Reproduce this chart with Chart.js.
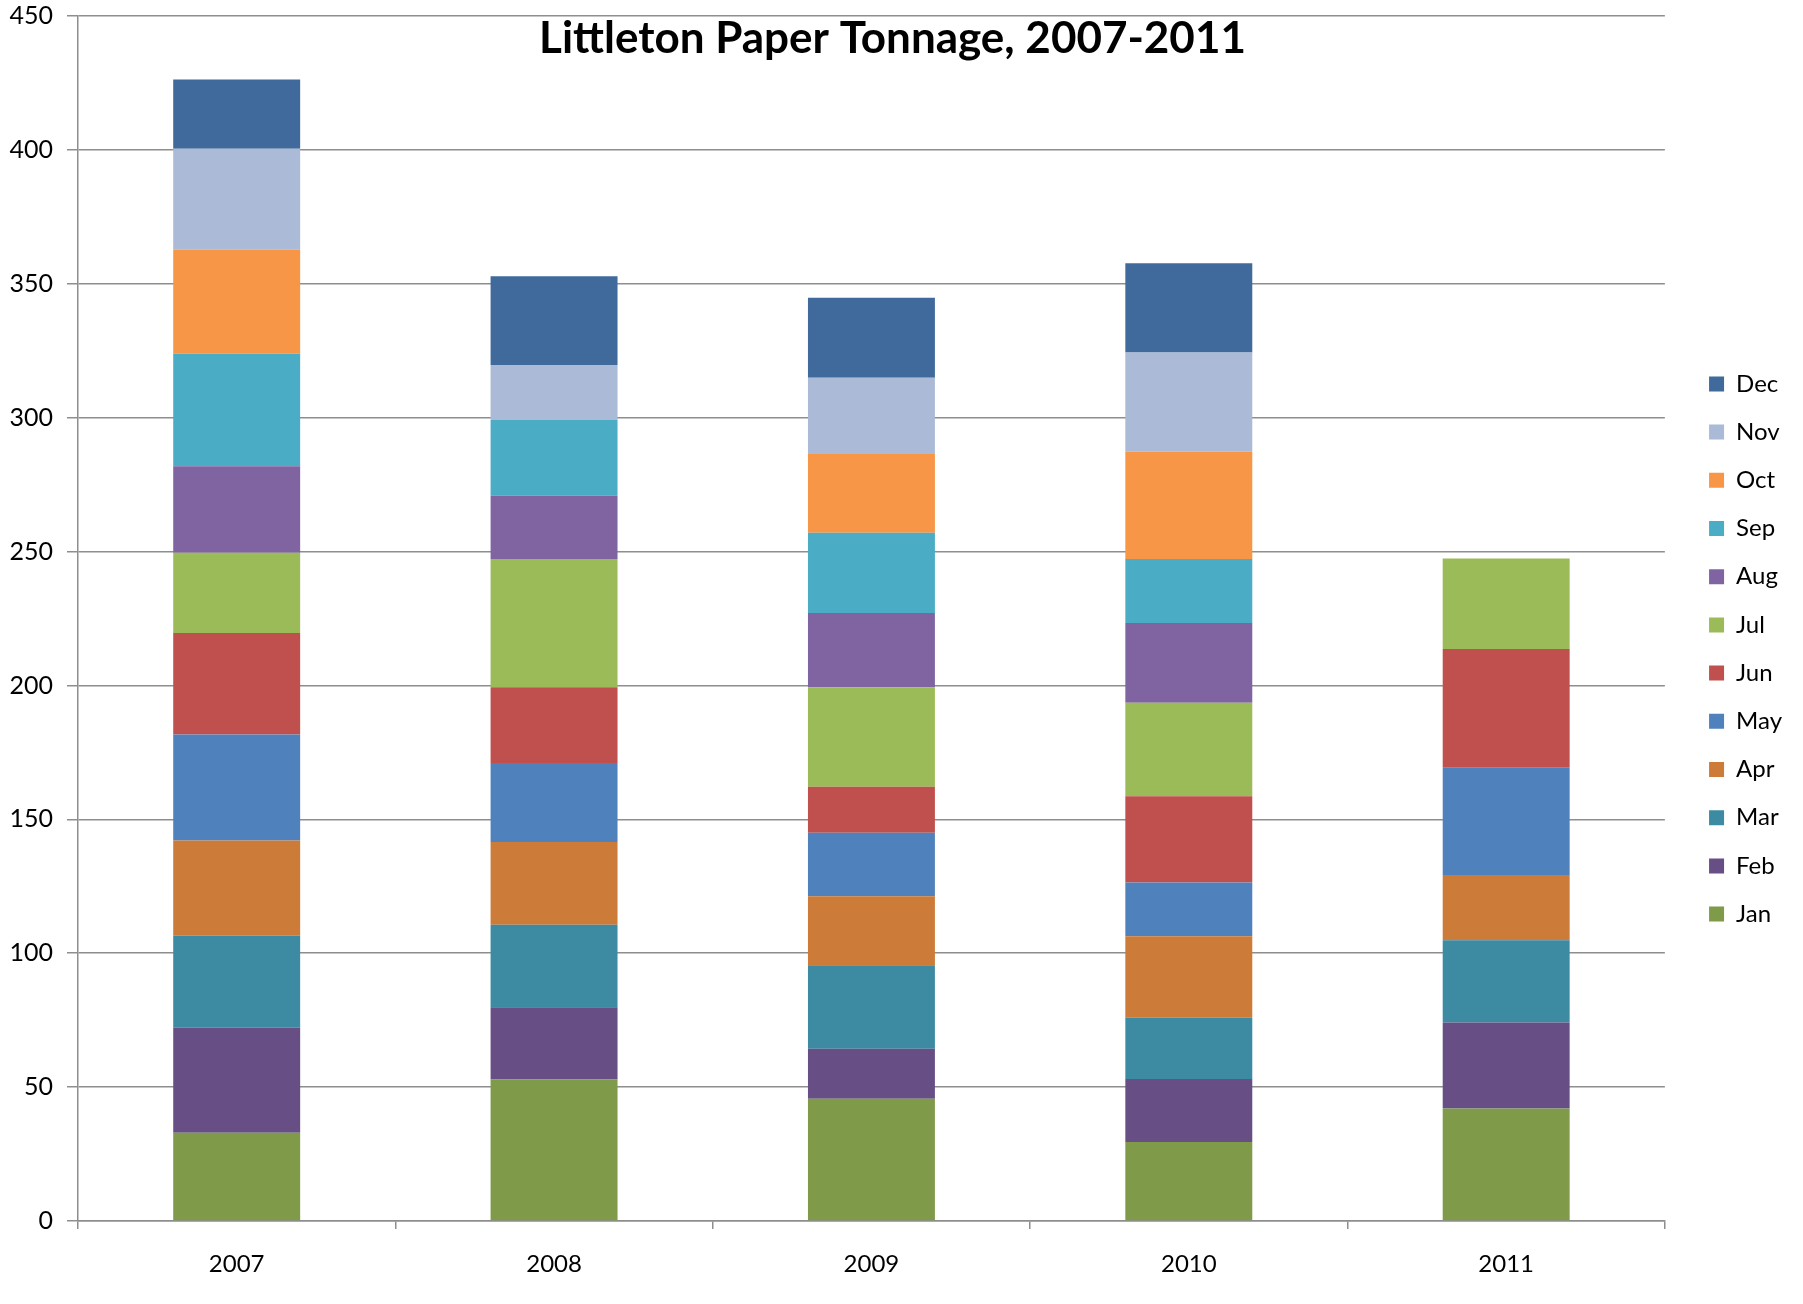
<!DOCTYPE html>
<html>
<head>
<meta charset="utf-8">
<script src="https://cdn.jsdelivr.net/npm/chart.js@4.4.1/dist/chart.umd.min.js"></script>
<style>
  html, body { margin: 0; padding: 0; background: #ffffff; }
  #wrap { width: 1803px; height: 1304px; }
</style>
</head>
<body>
<div id="wrap"><canvas id="c" width="1803" height="1304"></canvas></div>
<script>
const years = ['2007', '2008', '2009', '2010', '2011'];
const months = ['Jan', 'Feb', 'Mar', 'Apr', 'May', 'Jun', 'Jul', 'Aug', 'Sep', 'Oct', 'Nov', 'Dec'];

const jan = [33.0, 52.8, 45.7, 29.5, 42.0];
const feb = [39.3, 27.0, 18.6, 23.5, 32.1];
const mar = [34.3, 30.8, 31.2, 22.9, 30.7];
const apr = [35.5, 30.9, 25.8, 30.4, 24.4];
const may = [39.6, 29.5, 23.7, 20.1, 40.1];
const jun = [37.9, 28.3, 17.2, 32.2, 44.3];
const jul = [30.0, 47.9, 37.1, 34.9, 33.8];
const aug = [32.3, 23.6, 27.8, 29.8, 0];
const sep = [42.0, 28.3, 29.9, 23.9, 0];
const oct = [38.8, 0, 29.7, 40.2, 0];
const nov = [37.7, 20.6, 28.2, 36.9, 0];
const dec = [25.9, 33.1, 29.9, 33.4, 0];

const yTicks = [0, 50, 100, 150, 200, 250, 300, 350, 400, 450];
const titleText = 'Littleton Paper Tonnage, 2007-2011';

const seriesValues = [jan, feb, mar, apr, may, jun, jul, aug, sep, oct, nov, dec];
const seriesColors = ['#7F9A48', '#674F86', '#3C8BA2', '#CC7B38', '#4F81BD', '#C0504D',
                      '#9BBB59', '#8064A2', '#4BACC6', '#F79646', '#AABAD7', '#3F6A9B'];

const FONT = 'Lato, "Open Sans", "Noto Sans", sans-serif';
const GRID = '#8e8e8e';

const titlePlugin = {
  id: 'overTitle',
  afterDraw(chart) {
    const ctx = chart.ctx;
    ctx.save();
    ctx.font = 'bold 44px ' + FONT;
    ctx.fillStyle = '#000000';
    ctx.textAlign = 'center';
    ctx.textBaseline = 'middle';
    ctx.fillText(titleText, chart.width / 2 - 9, 39);
    ctx.restore();
  }
};

const legendShift = {
  id: 'legendShift',
  afterLayout(chart) {
    const lg = chart.legend;
    if (lg) { lg.left += 20; lg.right += 20; lg.top -= 11; lg.bottom -= 11; }
  }
};

new Chart(document.getElementById('c'), {
  type: 'bar',
  data: {
    labels: years,
    datasets: months.map((m, i) => ({
      label: m,
      data: seriesValues[i],
      backgroundColor: seriesColors[i],
      borderWidth: 0,
      categoryPercentage: 1.0,
      barPercentage: 0.4
    }))
  },
  options: {
    responsive: false,
    animation: false,
    devicePixelRatio: 1,
    layout: { padding: { top: 16, right: 31, bottom: 0, left: 0 } },
    plugins: {
      title: { display: false },
      tooltip: { enabled: false },
      legend: {
        position: 'right',
        reverse: true,
        labels: {
          boxWidth: 15,
          boxHeight: 15,
          padding: 24.2,
          color: '#000000',
          font: { family: FONT, size: 24 }
        }
      }
    },
    scales: {
      x: {
        stacked: true,
        afterFit(scale) { scale.height = 83; },
        grid: {
          drawOnChartArea: false,
          drawTicks: true,
          tickLength: 8,
          offset: true,
          color: GRID,
          lineWidth: 1.5
        },
        border: { display: true, color: GRID, width: 1.5 },
        ticks: {
          color: '#000000',
          padding: 21,
          font: { family: FONT, size: 24 }
        }
      },
      y: {
        stacked: true,
        min: 0,
        max: 450,
        afterFit(scale) { scale.width = 78; scale.paddingTop = 0; scale.paddingBottom = 0; },
        afterBuildTicks(scale) { scale.ticks = yTicks.map(v => ({ value: v })); },
        grid: {
          color: GRID,
          lineWidth: 1.5,
          drawTicks: true,
          tickLength: 11
        },
        border: { display: true, color: GRID, width: 1.5 },
        ticks: {
          color: '#000000',
          padding: 14,
          font: { family: FONT, size: 25 }
        }
      }
    }
  },
  plugins: [titlePlugin, legendShift]
});
</script>
</body>
</html>
